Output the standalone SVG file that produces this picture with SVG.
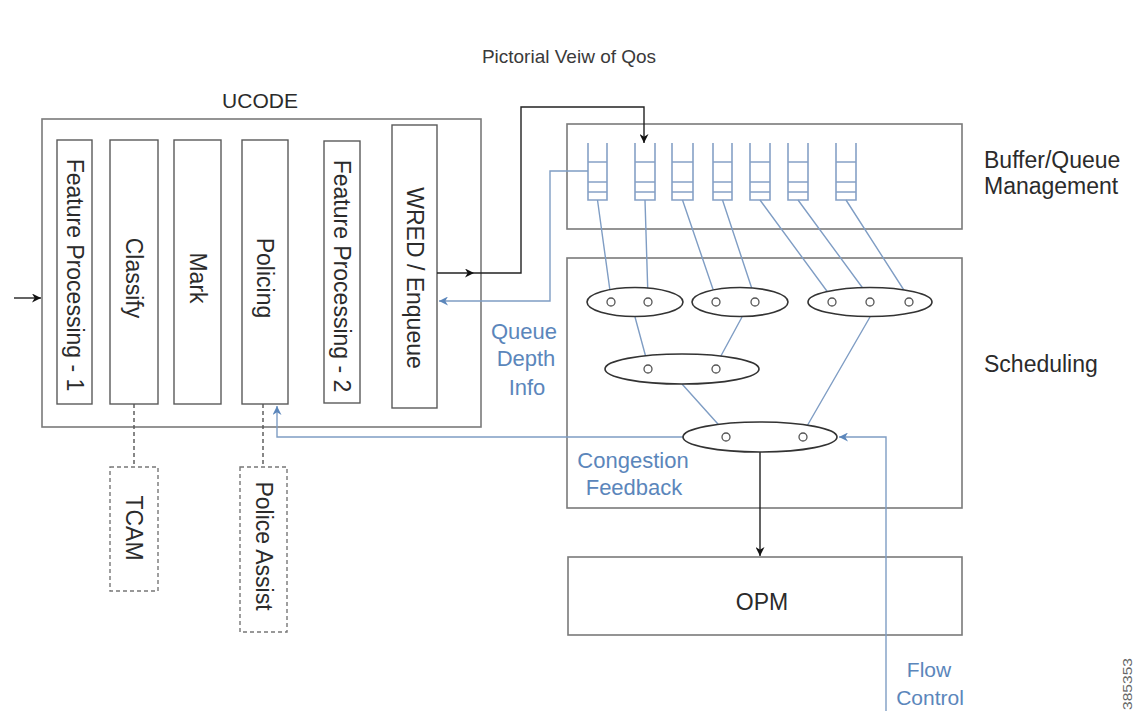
<svg xmlns="http://www.w3.org/2000/svg" width="1140" height="711" viewBox="0 0 1140 711">
<defs>
<style>
text{font-family:"Liberation Sans",Arial,sans-serif;fill:#2b2b2b}
.big{font-size:23px}
.rot{font-size:23px;text-anchor:middle;dominant-baseline:central}
.blue{fill:#5b86bb;font-size:22px;text-anchor:middle}
.box{fill:#fff;stroke:#7a7a7a;stroke-width:1.6}
.inner{fill:#fff;stroke:#5a5a5a;stroke-width:1.4}
.dash{fill:#fff;stroke:#777;stroke-width:1.4;stroke-dasharray:4 3}
.q{fill:none;stroke:#86a1c6;stroke-width:1.6}
.bl{fill:none;stroke:#7f9dc4;stroke-width:1.4}
.blk{fill:none;stroke:#222;stroke-width:1.4}
.ell{fill:#fff;stroke:#333;stroke-width:1.6}
.dot{fill:#fff;stroke:#555;stroke-width:1.3}
</style>
<marker id="ab" viewBox="0 0 10 10" refX="10" refY="5" markerWidth="9" markerHeight="9" markerUnits="userSpaceOnUse" orient="auto"><path d="M0,0 L10,5 L0,10 L3,5 z" fill="#111"/></marker>
<marker id="au" viewBox="0 0 10 10" refX="10" refY="5" markerWidth="9" markerHeight="9" markerUnits="userSpaceOnUse" orient="auto"><path d="M0,0 L10,5 L0,10 L3,5 z" fill="#5b86bb"/></marker>
</defs>
<rect width="1140" height="711" fill="#fff"/>

<text x="569" y="63" style="font-size:19px;text-anchor:middle;fill:#3a3a3a">Pictorial Veiw of Qos</text>

<g id="ucode">
<rect class="box" x="42" y="119" width="439" height="308"/>
<text x="260" y="108" style="font-size:21px;text-anchor:middle">UCODE</text>
</g>
<g id="fp1"><rect class="inner" x="57" y="140" width="35" height="264"/><text class="rot" transform="translate(74.5,275) rotate(90)">Feature Processing - 1</text></g>
<g id="classify"><rect class="inner" x="110" y="140" width="48" height="264"/><text class="rot" transform="translate(134,278) rotate(90)">Classify</text></g>
<g id="mark"><rect class="inner" x="174" y="140" width="47" height="264"/><text class="rot" transform="translate(197.5,278) rotate(90)">Mark</text></g>
<g id="policing"><rect class="inner" x="242" y="140" width="46" height="264"/><text class="rot" transform="translate(265,278) rotate(90)">Policing</text></g>
<g id="fp2"><rect class="inner" x="324" y="141" width="36" height="262"/><text class="rot" transform="translate(342,276) rotate(90)">Feature Processing - 2</text></g>
<g id="wred"><rect class="inner" x="392" y="125" width="45" height="283"/><text class="rot" transform="translate(414.5,278) rotate(90)">WRED / Enqueue</text></g>

<g id="tcam"><rect class="dash" x="110" y="467" width="48" height="124"/><text class="rot" transform="translate(134,528) rotate(90)">TCAM</text></g>
<g id="policeassist"><rect class="dash" x="240" y="467" width="47" height="165"/><text class="rot" transform="translate(263.5,546) rotate(90)">Police Assist</text></g>

<g id="buffer">
<rect class="box" x="567" y="124" width="395" height="105"/>
<text class="big" x="984" y="168">Buffer/Queue</text>
<text class="big" x="984" y="194">Management</text>
</g>

<g id="queues">
<path class="q" d="M588,143V200H607V143M588,162H607M588,182H607M588,192H607"/>
<path class="q" d="M635,143V200H655V143M635,162H655M635,182H655M635,192H655"/>
<path class="q" d="M672,143V200H693V143M672,162H693M672,182H693M672,192H693"/>
<path class="q" d="M713,143V200H732V143M713,162H732M713,182H732M713,192H732"/>
<path class="q" d="M750,143V200H770V143M750,162H770M750,182H770M750,192H770"/>
<path class="q" d="M788,143V200H808V143M788,162H808M788,182H808M788,192H808"/>
<path class="q" d="M836,143V200H856V143M836,162H856M836,182H856M836,192H856"/>
</g>

<g id="scheduling">
<rect class="box" x="567" y="258" width="395" height="250"/>
<text class="big" x="984" y="372">Scheduling</text>
</g>

<g id="opm">
<rect class="box" x="568" y="557" width="394" height="78"/>
<text class="big" x="762" y="610" style="text-anchor:middle">OPM</text>
</g>

<g id="connectors">
<path class="bl" d="M597.5,200L611,298M645,200L648,298M682.5,200L716,298M722.5,200L755,298M760,200L832,298M798,200L870,298M846,200L909,298"/>
<path class="bl" d="M635,317L648,365M742,317L716,365M682,384L726,433M870,317L803,433"/>
<path class="blk" d="M14,298H41" marker-end="url(#ab)"/>
<path class="blk" d="M437,273H474" marker-end="url(#ab)"/>
<path class="blk" d="M474,273H521V107H644V143" marker-end="url(#ab)"/>
<path class="bl" d="M588,171H550V301H439" marker-end="url(#au)"/>
<path class="bl" d="M684,437H277V406" marker-end="url(#au)"/>
<path class="bl" d="M886,711V437H839" marker-end="url(#au)"/>
<path class="blk" d="M760,452V556" marker-end="url(#ab)"/>
<path d="M134,404V467M263,404V467" fill="none" stroke="#555" stroke-width="1.4" stroke-dasharray="4 3"/>
</g>

<g id="schedulers">
<ellipse class="ell" cx="635" cy="302" rx="48" ry="14.5"/>
<ellipse class="ell" cx="740" cy="302" rx="48" ry="14.5"/>
<ellipse class="ell" cx="870" cy="302" rx="62" ry="14.5"/>
<ellipse class="ell" cx="682" cy="369" rx="77" ry="15"/>
<ellipse class="ell" cx="760" cy="437" rx="77" ry="15"/>
<circle class="dot" cx="611" cy="302" r="4"/><circle class="dot" cx="648" cy="302" r="4"/>
<circle class="dot" cx="716" cy="302" r="4"/><circle class="dot" cx="755" cy="302" r="4"/>
<circle class="dot" cx="832" cy="302" r="4"/><circle class="dot" cx="870" cy="302" r="4"/><circle class="dot" cx="909" cy="302" r="4"/>
<circle class="dot" cx="648" cy="369" r="4"/><circle class="dot" cx="716" cy="369" r="4"/>
<circle class="dot" cx="726" cy="437" r="4"/><circle class="dot" cx="803" cy="437" r="4"/>
</g>

<g id="labels">
<text class="blue" x="524" y="339">Queue</text>
<text class="blue" x="526" y="366">Depth</text>
<text class="blue" x="527" y="395">Info</text>
<text class="blue" x="633" y="468">Congestion</text>
<text class="blue" x="634" y="495">Feedback</text>
<text class="blue" x="929" y="677" style="font-size:21px">Flow</text>
<text class="blue" x="930" y="705" style="font-size:21px">Control</text>
<text transform="translate(1132,684) rotate(-90)" style="font-size:13px;text-anchor:middle;fill:#666" textLength="52" lengthAdjust="spacingAndGlyphs">385353</text>
</g>
</svg>
